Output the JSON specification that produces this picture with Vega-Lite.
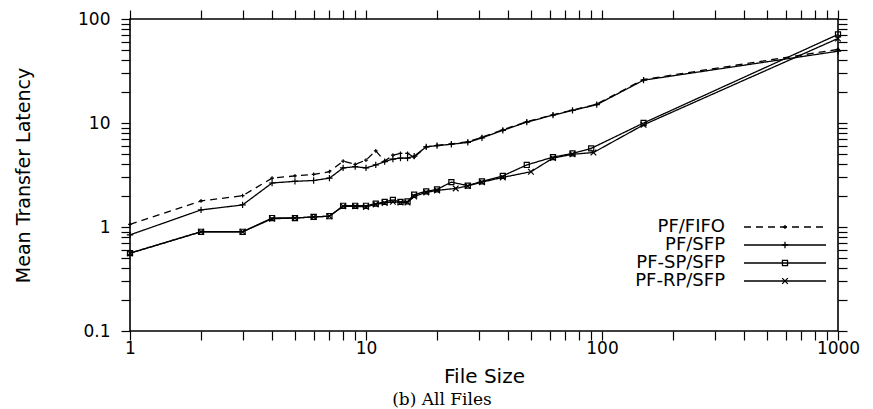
{
  "$schema": "https://vega.github.io/schema/vega-lite/v6.json",
  "width": 708,
  "height": 312,
  "autosize": "none",
  "padding": {"left": 130, "top": 19, "right": 35, "bottom": 78},
  "background": "white",
  "config": {
    "view": {"stroke": "black", "strokeWidth": 1.6},
    "font": "DejaVu Sans",
    "axis": {
      "grid": false,
      "domain": false,
      "ticks": true,
      "tickColor": "black",
      "tickWidth": 1.2,
      "labelColor": "black",
      "labelFont": "DejaVu Sans",
      "labelFontSize": 17,
      "labelFlush": false,
      "labelOverlap": false,
      "labelBound": false,
      "titleColor": "black",
      "titleFont": "DejaVu Sans",
      "titleFontWeight": "normal"
    }
  },
  "title": {
    "text": "(b) All Files",
    "orient": "bottom",
    "anchor": "middle",
    "frame": "group",
    "font": "DejaVu Serif",
    "fontSize": 17,
    "fontWeight": "normal",
    "color": "black",
    "dx": -42,
    "offset": 6
  },
  "data": {
    "values": [
      {"series": "PF/FIFO", "size": 1, "latency": 1.06},
      {"series": "PF/FIFO", "size": 2, "latency": 1.78},
      {"series": "PF/FIFO", "size": 3, "latency": 2.0},
      {"series": "PF/FIFO", "size": 4, "latency": 2.95},
      {"series": "PF/FIFO", "size": 5, "latency": 3.1},
      {"series": "PF/FIFO", "size": 6, "latency": 3.2},
      {"series": "PF/FIFO", "size": 7, "latency": 3.4},
      {"series": "PF/FIFO", "size": 8, "latency": 4.3},
      {"series": "PF/FIFO", "size": 9, "latency": 4.0},
      {"series": "PF/FIFO", "size": 10, "latency": 4.4},
      {"series": "PF/FIFO", "size": 11, "latency": 5.4},
      {"series": "PF/FIFO", "size": 12, "latency": 4.3},
      {"series": "PF/FIFO", "size": 13, "latency": 4.9},
      {"series": "PF/FIFO", "size": 14, "latency": 5.1},
      {"series": "PF/FIFO", "size": 15, "latency": 5.1},
      {"series": "PF/FIFO", "size": 16, "latency": 4.7},
      {"series": "PF/FIFO", "size": 18, "latency": 5.9},
      {"series": "PF/FIFO", "size": 20, "latency": 6.1},
      {"series": "PF/FIFO", "size": 23, "latency": 6.3},
      {"series": "PF/FIFO", "size": 27, "latency": 6.6},
      {"series": "PF/FIFO", "size": 31, "latency": 7.3},
      {"series": "PF/FIFO", "size": 38, "latency": 8.6},
      {"series": "PF/FIFO", "size": 48, "latency": 10.3},
      {"series": "PF/FIFO", "size": 62, "latency": 12.0},
      {"series": "PF/FIFO", "size": 75, "latency": 13.3},
      {"series": "PF/FIFO", "size": 95, "latency": 15.2},
      {"series": "PF/FIFO", "size": 150, "latency": 26.2},
      {"series": "PF/FIFO", "size": 1000, "latency": 51},
      {"series": "PF/SFP", "size": 1, "latency": 0.84},
      {"series": "PF/SFP", "size": 2, "latency": 1.46},
      {"series": "PF/SFP", "size": 3, "latency": 1.63},
      {"series": "PF/SFP", "size": 4, "latency": 2.65},
      {"series": "PF/SFP", "size": 5, "latency": 2.75},
      {"series": "PF/SFP", "size": 6, "latency": 2.8},
      {"series": "PF/SFP", "size": 7, "latency": 2.95},
      {"series": "PF/SFP", "size": 8, "latency": 3.7},
      {"series": "PF/SFP", "size": 9, "latency": 3.8},
      {"series": "PF/SFP", "size": 10, "latency": 3.7},
      {"series": "PF/SFP", "size": 11, "latency": 3.95},
      {"series": "PF/SFP", "size": 12, "latency": 4.25},
      {"series": "PF/SFP", "size": 13, "latency": 4.5},
      {"series": "PF/SFP", "size": 14, "latency": 4.6},
      {"series": "PF/SFP", "size": 15, "latency": 4.6},
      {"series": "PF/SFP", "size": 16, "latency": 4.8},
      {"series": "PF/SFP", "size": 18, "latency": 5.9},
      {"series": "PF/SFP", "size": 20, "latency": 6.05},
      {"series": "PF/SFP", "size": 23, "latency": 6.25},
      {"series": "PF/SFP", "size": 27, "latency": 6.5},
      {"series": "PF/SFP", "size": 31, "latency": 7.2},
      {"series": "PF/SFP", "size": 38, "latency": 8.5},
      {"series": "PF/SFP", "size": 48, "latency": 10.2},
      {"series": "PF/SFP", "size": 62, "latency": 11.9},
      {"series": "PF/SFP", "size": 75, "latency": 13.2},
      {"series": "PF/SFP", "size": 95, "latency": 15.0},
      {"series": "PF/SFP", "size": 150, "latency": 25.8},
      {"series": "PF/SFP", "size": 1000, "latency": 49},
      {"series": "PF-SP/SFP", "size": 1, "latency": 0.56},
      {"series": "PF-SP/SFP", "size": 2, "latency": 0.9},
      {"series": "PF-SP/SFP", "size": 3, "latency": 0.9},
      {"series": "PF-SP/SFP", "size": 4, "latency": 1.22},
      {"series": "PF-SP/SFP", "size": 5, "latency": 1.22},
      {"series": "PF-SP/SFP", "size": 6, "latency": 1.25},
      {"series": "PF-SP/SFP", "size": 7, "latency": 1.27},
      {"series": "PF-SP/SFP", "size": 8, "latency": 1.6},
      {"series": "PF-SP/SFP", "size": 9, "latency": 1.6},
      {"series": "PF-SP/SFP", "size": 10, "latency": 1.6},
      {"series": "PF-SP/SFP", "size": 11, "latency": 1.68},
      {"series": "PF-SP/SFP", "size": 12, "latency": 1.74},
      {"series": "PF-SP/SFP", "size": 13, "latency": 1.82},
      {"series": "PF-SP/SFP", "size": 14, "latency": 1.74},
      {"series": "PF-SP/SFP", "size": 15, "latency": 1.76},
      {"series": "PF-SP/SFP", "size": 16, "latency": 2.05},
      {"series": "PF-SP/SFP", "size": 18, "latency": 2.2},
      {"series": "PF-SP/SFP", "size": 20, "latency": 2.3},
      {"series": "PF-SP/SFP", "size": 23, "latency": 2.7},
      {"series": "PF-SP/SFP", "size": 27, "latency": 2.5},
      {"series": "PF-SP/SFP", "size": 31, "latency": 2.75},
      {"series": "PF-SP/SFP", "size": 38, "latency": 3.1},
      {"series": "PF-SP/SFP", "size": 48, "latency": 3.95},
      {"series": "PF-SP/SFP", "size": 62, "latency": 4.7},
      {"series": "PF-SP/SFP", "size": 75, "latency": 5.1},
      {"series": "PF-SP/SFP", "size": 90, "latency": 5.7},
      {"series": "PF-SP/SFP", "size": 150, "latency": 10.0},
      {"series": "PF-SP/SFP", "size": 1000, "latency": 71},
      {"series": "PF-RP/SFP", "size": 1, "latency": 0.56},
      {"series": "PF-RP/SFP", "size": 2, "latency": 0.9},
      {"series": "PF-RP/SFP", "size": 3, "latency": 0.9},
      {"series": "PF-RP/SFP", "size": 4, "latency": 1.2},
      {"series": "PF-RP/SFP", "size": 5, "latency": 1.22},
      {"series": "PF-RP/SFP", "size": 6, "latency": 1.25},
      {"series": "PF-RP/SFP", "size": 7, "latency": 1.27},
      {"series": "PF-RP/SFP", "size": 8, "latency": 1.58},
      {"series": "PF-RP/SFP", "size": 9, "latency": 1.58},
      {"series": "PF-RP/SFP", "size": 10, "latency": 1.56},
      {"series": "PF-RP/SFP", "size": 11, "latency": 1.65},
      {"series": "PF-RP/SFP", "size": 12, "latency": 1.7},
      {"series": "PF-RP/SFP", "size": 13, "latency": 1.75},
      {"series": "PF-RP/SFP", "size": 14, "latency": 1.72},
      {"series": "PF-RP/SFP", "size": 15, "latency": 1.72},
      {"series": "PF-RP/SFP", "size": 16, "latency": 1.97},
      {"series": "PF-RP/SFP", "size": 18, "latency": 2.15},
      {"series": "PF-RP/SFP", "size": 20, "latency": 2.25},
      {"series": "PF-RP/SFP", "size": 24, "latency": 2.35},
      {"series": "PF-RP/SFP", "size": 27, "latency": 2.48},
      {"series": "PF-RP/SFP", "size": 31, "latency": 2.7},
      {"series": "PF-RP/SFP", "size": 38, "latency": 3.0},
      {"series": "PF-RP/SFP", "size": 50, "latency": 3.4},
      {"series": "PF-RP/SFP", "size": 62, "latency": 4.6},
      {"series": "PF-RP/SFP", "size": 75, "latency": 5.0},
      {"series": "PF-RP/SFP", "size": 92, "latency": 5.2},
      {"series": "PF-RP/SFP", "size": 150, "latency": 9.6},
      {"series": "PF-RP/SFP", "size": 1000, "latency": 65}
    ]
  },
  "layer": [
    {
      "mark": {"type": "line", "color": "black", "strokeWidth": 1.3},
      "encoding": {
        "x": {
          "field": "size", "type": "quantitative",
          "scale": {"type": "log", "domain": [1, 1000]},
          "axis": {
            "orient": "bottom",
            "title": "File Size",
            "titleFontSize": 20,
            "titleX": 354,
            "titleY": 51,
            "titleBaseline": "alphabetic",
            "values": [1,2,3,4,5,6,7,8,9,10,20,30,40,50,60,70,80,90,100,200,300,400,500,600,700,800,900,1000],
            "format": "~g",
            "labelExpr": "abs(log(datum.value)/LN10 - round(log(datum.value)/LN10)) < 0.0001 ? datum.label : ''",
            "tickSize": 9,
            "labelPadding": 0,
            "encode": {"ticks": {"y2": {"value": -6}}}
          }
        },
        "y": {
          "field": "latency", "type": "quantitative",
          "scale": {"type": "log", "domain": [0.1, 100]},
          "axis": {
            "orient": "left",
            "title": "Mean Transfer Latency",
            "titleFontSize": 19,
            "titleX": -101,
            "titleY": 156,
            "titleBaseline": "alphabetic",
            "values": [0.1,0.2,0.3,0.4,0.5,0.6,0.7,0.8,0.9,1,2,3,4,5,6,7,8,9,10,20,30,40,50,60,70,80,90,100],
            "format": "~g",
            "labelExpr": "abs(log(datum.value)/LN10 - round(log(datum.value)/LN10)) < 0.0001 ? datum.label : ''",
            "tickSize": 9,
            "labelPadding": 11,
            "encode": {"ticks": {"x2": {"value": 6}}}
          }
        },
        "strokeDash": {
          "field": "series", "type": "nominal",
          "sort": ["PF/FIFO", "PF/SFP", "PF-SP/SFP", "PF-RP/SFP"],
          "scale": {"range": [[7, 5], [1, 0], [1, 0], [1, 0]]},
          "legend": {
            "orient": "none",
            "legendX": 646,
            "legendY": 199,
            "title": null,
            "direction": "vertical",
            "labelFont": "DejaVu Sans",
            "labelFontSize": 18,
            "labelColor": "transparent",
            "labelAlign": "right",
            "labelOffset": -69,
            "rowPadding": 0,
            "symbolType": "M-8.2,0L8.2,0",
            "symbolSize": 100,
            "symbolStrokeColor": "black",
            "symbolStrokeWidth": 1.3
          }
        }
      }
    },
    {
      "mark": {"type": "point", "filled": false, "stroke": "black", "strokeWidth": 1.2, "size": 40, "opacity": 1},
      "encoding": {
        "x": {
          "field": "size", "type": "quantitative",
          "scale": {"type": "log", "domain": [1, 1000]},
          "axis": {
            "orient": "top",
            "title": null,
            "labels": false,
            "values": [1,2,3,4,5,6,7,8,9,10,20,30,40,50,60,70,80,90,100,200,300,400,500,600,700,800,900,1000],
            "tickSize": 9,
            "encode": {"ticks": {"y2": {"value": 6}}}
          }
        },
        "y": {
          "field": "latency", "type": "quantitative",
          "scale": {"type": "log", "domain": [0.1, 100]},
          "axis": {
            "orient": "right",
            "title": null,
            "labels": false,
            "values": [0.1,0.2,0.3,0.4,0.5,0.6,0.7,0.8,0.9,1,2,3,4,5,6,7,8,9,10,20,30,40,50,60,70,80,90,100],
            "tickSize": 9,
            "encode": {"ticks": {"x2": {"value": -6}}}
          }
        },
        "shape": {
          "field": "series", "type": "nominal",
          "scale": {
            "domain": ["PF/FIFO", "PF/SFP", "PF-SP/SFP", "PF-RP/SFP"],
            "range": [
              "M-0.6,0L0.6,0M0,-0.6L0,0.6",
              "M-1,0L1,0M0,-1L0,1",
              "M-0.8,-0.8L0.8,-0.8L0.8,0.8L-0.8,0.8Z",
              "M-0.9,-0.9L0.9,0.9M-0.9,0.9L0.9,-0.9"
            ]
          },
          "legend": {
            "orient": "none",
            "legendX": 646,
            "legendY": 199,
            "title": null,
            "direction": "vertical",
            "labelFont": "DejaVu Sans",
            "labelFontSize": 18,
            "labelColor": "black",
            "labelAlign": "right",
            "labelOffset": -69,
            "rowPadding": 0,
            "symbolSize": 40,
            "symbolStrokeColor": "black",
            "symbolFillColor": "white",
            "symbolStrokeWidth": 1.3
          }
        }
      }
    }
  ],
  "resolve": {"axis": {"x": "independent", "y": "independent"}}
}
